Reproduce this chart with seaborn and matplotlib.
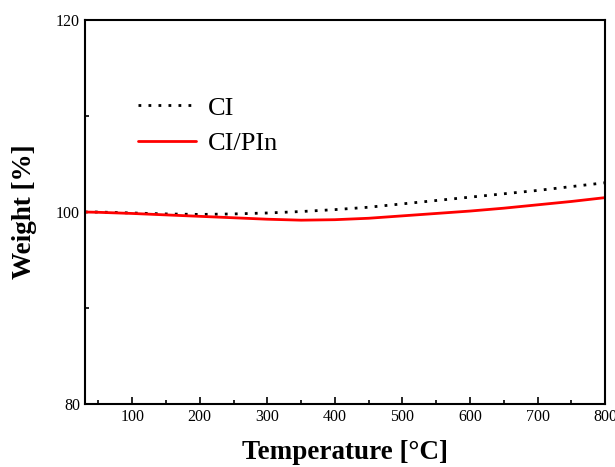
import matplotlib
matplotlib.use("Agg")
import matplotlib.pyplot as plt
import seaborn as sns
import pandas as pd
from matplotlib.ticker import MultipleLocator

# TGA curves, weight retained vs temperature
temperature = [30, 50, 100, 150, 200, 250, 300, 350, 400, 450, 500, 550, 600, 650, 700, 750, 800]
weight_ci = [100.0, 100.0, 99.9, 99.8, 99.75, 99.8, 99.9, 100.05, 100.25, 100.5, 100.85,
             101.2, 101.55, 101.9, 102.25, 102.65, 103.05]
weight_ci_pin = [100.0, 99.97, 99.85, 99.7, 99.55, 99.4, 99.25, 99.15, 99.2, 99.35, 99.6,
                 99.85, 100.1, 100.4, 100.75, 101.1, 101.5]
series_names = ["CI", "CI/PIn"]

df = pd.concat([
    pd.DataFrame({"Temperature": temperature, "Weight": weight_ci, "Sample": series_names[0]}),
    pd.DataFrame({"Temperature": temperature, "Weight": weight_ci_pin, "Sample": series_names[1]}),
])

sns.set_theme(style="white")
plt.rcParams["font.family"] = ["Liberation Serif", "DejaVu Serif"]
plt.rcParams["text.color"] = "black"
plt.rcParams["axes.labelcolor"] = "black"

fig, ax = plt.subplots(figsize=(6.15, 4.67), dpi=100)
fig.subplots_adjust(left=0.138, right=0.984, top=0.957, bottom=0.135)

sns.lineplot(data=df[df["Sample"] == "CI"], x="Temperature", y="Weight", ax=ax,
             color="black", linestyle=(0, (1, 2.6)), linewidth=2, label="CI")
sns.lineplot(data=df[df["Sample"] == "CI/PIn"], x="Temperature", y="Weight", ax=ax,
             color="red", linewidth=2, label="CI/PIn")

ax.set_xlim(30, 800)
ax.set_ylim(80, 120)
ax.xaxis.set_major_locator(MultipleLocator(100))
ax.xaxis.set_minor_locator(MultipleLocator(50))
ax.yaxis.set_major_locator(MultipleLocator(20))
ax.yaxis.set_minor_locator(MultipleLocator(10))
ax.tick_params(which="both", direction="in", bottom=True, left=True, top=False, right=False,
               labelsize=11.5, colors="black", width=1.2)
ax.tick_params(which="major", length=5)
ax.tick_params(which="minor", length=3)
for s in ax.spines.values():
    s.set_color("black")
    s.set_linewidth(1.5)

ax.set_xlabel("Temperature [°C]", fontsize=19.5, fontweight="bold", labelpad=11)
ax.set_ylabel("Weight [%]", fontsize=19.5, fontweight="bold", labelpad=14)

ax.legend(loc="upper left", bbox_to_anchor=(0.066, 0.85), frameon=False, fontsize=19,
          handlelength=2.2, handletextpad=0.45, labelspacing=0.45, borderpad=0.2)

fig.savefig("out.png", dpi=100)
